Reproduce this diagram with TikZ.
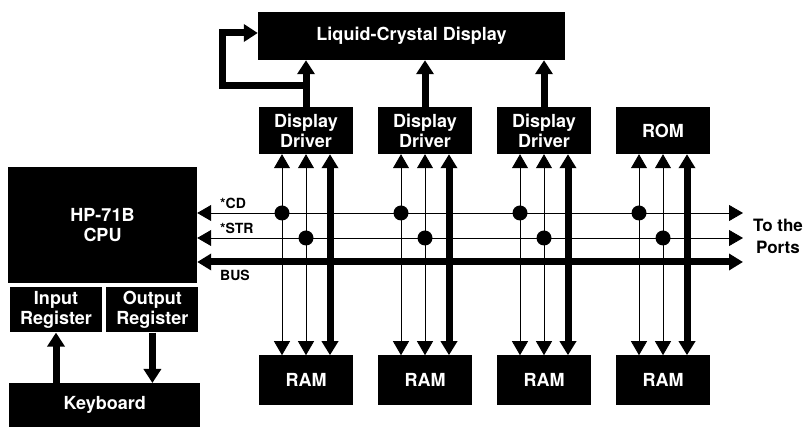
\documentclass[tikz,border=0pt]{standalone}
\usepackage{fontspec}
\setmainfont{TeX Gyre Heros}
\usetikzlibrary{arrows.meta, positioning}

\begin{document}
\begin{tikzpicture}[
  x=1pt, y=-1pt,
  blk/.style={fill=black, text=white, align=center, inner sep=0pt, font=\fontsize{18}{20}\selectfont\bfseries},
  drvbox/.style={blk, minimum width=94pt, minimum height=47pt},
  rambox/.style={blk, minimum width=94pt, minimum height=50pt},
  regbox/.style={blk, minimum width=92pt, minimum height=45pt},
  sig/.style={font=\fontsize{14}{15}\selectfont\bfseries, anchor=west, inner sep=0pt},
  link/.style={{Triangle[length=14pt,width=16pt]}-{Triangle[length=14pt,width=16pt]}, line width=0.8pt},
  fat/.style={link, line width=7pt},
  feed/.style={-{Triangle[length=14pt,width=17pt]}, line width=7pt}
]
\useasboundingbox (0,0) rectangle (807,427);
\node[blk, minimum width=307pt, minimum height=48pt] (lcd) at (411.5,36) {Liquid-Crystal Display};
\node[blk, minimum width=189pt, minimum height=116pt] (cpu) at (102.5,225) {HP-71B\\CPU};
\node[regbox, below right=4pt and 2pt of cpu.south west] (inreg) {Input\\Register};
\node[regbox, right=4pt of inreg] (outreg) {Output\\Register};
\node[blk, anchor=north west, minimum width=191pt, minimum height=44pt] (kbd) at (9,383) {Keyboard};
\node[drvbox] (dd1) at (306,130.5) {Display\\Driver};
\node[drvbox] (dd2) at (425,130.5) {Display\\Driver};
\node[drvbox] (dd3) at (544,130.5) {Display\\Driver};
\node[drvbox] (rom) at (663,130.5) {ROM};
\foreach \t/\r in {dd1/ram1, dd2/ram2, dd3/ram3, rom/ram4}
  \node[rambox, below=201pt of \t] (\r) {RAM};

% bus lines out to the ports
\coordinate (cd) at (743,213);
\coordinate (str) at (743,238);
\coordinate (bus) at (743,262);
\draw[link] (cpu.east |- cd) -- (cd);
\draw[link] (cpu.east |- str) -- (str);
\draw[fat] (cpu.east |- bus) -- (bus);
\node[sig] (cdlbl) at (220,203) {*CD};
\node[sig] (strlbl) at (220,228) {*STR};
\node[sig] (buslbl) at (220,275) {BUS};
\node[align=center, inner sep=0pt, font=\fontsize{17}{22}\selectfont\bfseries] (ports) at (778,236) {To the\\Ports};

% taps from each chip to its RAM
\foreach \t/\r in {dd1/ram1, dd2/ram2, dd3/ram3, rom/ram4} {
  \draw[link] ([xshift=-24pt]\t.south) -- ([xshift=-24pt]\r.north);
  \draw[link] (\t.south) -- (\r.north);
  \draw[fat] ([xshift=24pt]\t.south) -- ([xshift=24pt]\r.north);
  \fill ([xshift=-24pt]\t.south |- cd) circle (7.5pt);
  \fill (\t.south |- str) circle (7.5pt);
}

% drivers to the display
\foreach \t in {dd1,dd2,dd3}
  \draw[feed] (\t.north) -- (\t.north |- lcd.south);
\coordinate (tap) at ([yshift=21pt]dd1.north);
\draw[feed] (tap) -- ++(-84,0) |- ([yshift=3pt]lcd.west);

% keyboard
\draw[feed] (inreg.south |- kbd.north) -- (inreg.south);
\draw[feed] (outreg.south) -- (outreg.south |- kbd.north);
\end{tikzpicture}
\end{document}
